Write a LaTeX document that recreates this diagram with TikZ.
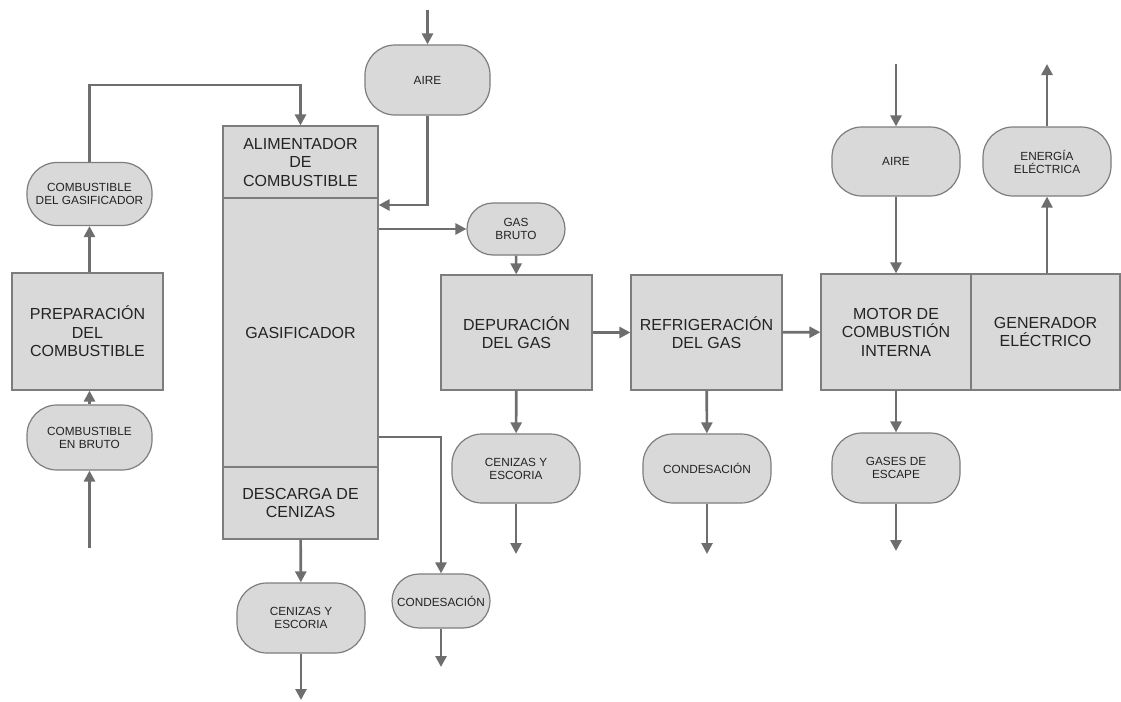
\documentclass[tikz,border=0pt]{standalone}
\usepackage{fontspec}
\setmainfont{Liberation Sans}
\usetikzlibrary{arrows.meta,calc}
\definecolor{figF}{RGB}{217,217,217}
\definecolor{figE}{RGB}{125,125,125}
\definecolor{figA}{RGB}{110,110,110}
\definecolor{figT}{RGB}{35,35,35}

\begin{document}
\begin{tikzpicture}[x=1pt,y=-1pt,>={Triangle[length=11pt,width=11pt]},
  blk/.style={draw=figE,fill=figF,line width=1.2pt,align=center,text=figT,inner sep=0pt,font=\fontsize{16}{18.5}\selectfont},
  term/.style={draw=figE,fill=figF,line width=1.2pt,align=center,text=figT,inner sep=0pt,rounded corners=30pt,minimum width=128pt,minimum height=69pt,font=\fontsize{11.8}{13}\selectfont},
  flow/.style={->,draw=figA,line width=2.6pt}]
\useasboundingbox (0,0) rectangle (1121,701);
% ---------- fuel line ----------
\node[term,minimum width=125pt,minimum height=63pt] (cgas) at (89.5,194) {COMBUSTIBLE\\DEL GASIFICADOR};
\node[blk,minimum width=151pt,minimum height=117pt] (prep) at (87.5,331.5) {PREPARACIÓN\\DEL\\COMBUSTIBLE};
\node[term,minimum width=125pt,minimum height=65pt] (cbruto) at (89.5,437.5) {COMBUSTIBLE\\EN BRUTO};
% ---------- gasifier ----------
\node[blk,minimum width=155pt,minimum height=72pt] (alim) at (300.5,162) {ALIMENTADOR\\DE\\COMBUSTIBLE};
\node[blk,minimum width=155pt,minimum height=269pt] (gasif) at (300.5,332.5) {GASIFICADOR};
\node[blk,minimum width=155pt,minimum height=72pt] (desc) at (300.5,503) {DESCARGA DE\\CENIZAS};
\node[term,minimum width=125pt,minimum height=70pt] (aire1) at (427.5,80) {AIRE};
\node[term,minimum width=98pt,minimum height=52pt,rounded corners=26pt] (gbruto) at (516,229) {GAS\\BRUTO};
\node[term,minimum height=70pt] (cen1) at (301,618) {CENIZAS Y\\ESCORIA};
\node[term,minimum width=98pt,minimum height=54pt,rounded corners=27pt] (cond1) at (441,601) {CONDESACIÓN};
% ---------- gas cleaning ----------
\node[blk,minimum width=151pt,minimum height=115pt] (depur) at (516.5,332.5) {DEPURACIÓN\\DEL GAS};
\node[blk,minimum width=151pt,minimum height=115pt] (refri) at (706.5,332.5) {REFRIGERACIÓN\\DEL GAS};
\node[term] (cen2) at (516,468.5) {CENIZAS Y\\ESCORIA};
\node[term] (cond2) at (707,468.5) {CONDESACIÓN};
% ---------- engine and generator ----------
\node[blk,minimum width=150pt,minimum height=116pt] (motor) at (896,332) {MOTOR DE\\COMBUSTIÓN\\INTERNA};
\node[blk,minimum width=149pt,minimum height=116pt] (gener) at (1045.5,332) {GENERADOR\\ELÉCTRICO};
\node[term] (aire2) at (896,161.5) {AIRE};
\node[term] (energ) at (1047,161.5) {ENERGÍA\\ELÉCTRICA};
\node[term,minimum height=70pt] (gases) at (896,468) {GASES DE\\ESCAPE};
% free ends
\coordinate (cbin) at (89.5,548);
\coordinate (feed) at (300.5,85);
\coordinate (aire1in) at (427.5,10);
\coordinate (cen1out) at (301,700);
\coordinate (cond1out) at (441,667);
\coordinate (cen2out) at (516,554);
\coordinate (cond2out) at (707,554);
\coordinate (aire2in) at (896,64);
\coordinate (energout) at (1047,64);
\coordinate (gasesout) at (896,551);
% ---------- flows ----------
\draw[flow] (cbin) -- (cbruto);
\draw[flow] (cbruto) -- (cbruto |- prep.south);
\draw[flow] (cgas |- prep.north) -- (cgas);
\draw[flow] (cgas.north) |- (feed) -- (alim.north);
\draw[flow] (aire1in) -- (aire1);
\draw[flow] (aire1.south) |- (gasif.east |- 0,205);
\draw[flow] (gasif.east |- gbruto.west) -- (gbruto.west);
\draw[flow] (gasif.east |- 0,437) -| (cond1.north);
\draw[flow] (cond1) -- (cond1out);
\draw[flow] (desc) -- (cen1);
\draw[flow] (cen1) -- (cen1out);
\draw[flow] (gbruto) -- (depur);
\draw[flow] (depur) -- (refri);
\draw[flow] (refri) -- (motor);
\draw[flow] (depur) -- (cen2);
\draw[flow] (cen2) -- (cen2out);
\draw[flow] (refri) -- (cond2);
\draw[flow] (cond2) -- (cond2out);
\draw[flow] (aire2in) -- (aire2);
\draw[flow] (aire2) -- (motor);
\draw[flow] (motor) -- (gases);
\draw[flow] (gases) -- (gasesout);
\draw[flow] (gener.north -| energ) -- (energ);
\draw[flow] (energ) -- (energout);
\end{tikzpicture}
\end{document}
